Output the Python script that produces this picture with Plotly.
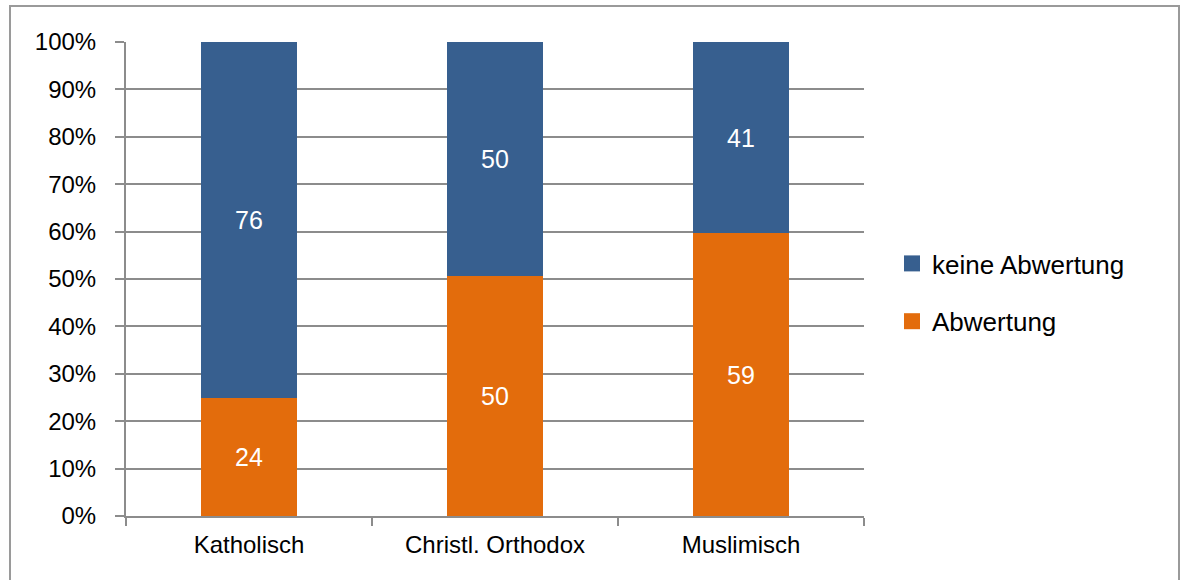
import plotly.graph_objects as go

categories = ["Katholisch", "Christl. Orthodox", "Muslimisch"]
# shares as drawn (bar heights)
abwertung = [25.0, 50.6, 59.7]
keine_abwertung = [75.0, 49.4, 40.3]
# labels printed in the bars
abwertung_labels = ["24", "50", "59"]
keine_labels = ["76", "50", "41"]
y_ticks = [0, 10, 20, 30, 40, 50, 60, 70, 80, 90, 100]
y_ticktext = [f"{v}%" for v in y_ticks]

BLUE = "#375F8F"
ORANGE = "#E36C0C"
GRID = "#8C8C8C"
FONT = "Liberation Sans, Arial, Helvetica, sans-serif"

fig = go.Figure()
fig.add_trace(go.Bar(
    x=categories, y=abwertung, name="Abwertung", marker=dict(color=ORANGE, line=dict(width=0)),
    text=abwertung_labels, texttemplate="%{text}", textposition="inside", insidetextanchor="middle",
    textfont=dict(color="white", size=25, family=FONT), showlegend=False, hoverinfo="skip",
))
fig.add_trace(go.Bar(
    x=categories, y=keine_abwertung, name="keine Abwertung", marker=dict(color=BLUE, line=dict(width=0)),
    text=keine_labels, texttemplate="%{text}", textposition="inside", insidetextanchor="middle",
    textfont=dict(color="white", size=25, family=FONT), showlegend=False, hoverinfo="skip",
))
# legend entries with larger square symbols
fig.add_trace(go.Scatter(
    x=[None], y=[None], mode="markers", name="keine Abwertung", legendgroup="a",
    marker=dict(symbol="square", size=17, color=BLUE), legendrank=1,
))
fig.add_trace(go.Scatter(
    x=[None], y=[None], mode="markers", name="Abwertung", legendgroup="b",
    marker=dict(symbol="square", size=17, color=ORANGE), legendrank=2,
))

W, H = 1182, 580
L, R, T, B = 126, 318, 42, 64
pw, ph = W - L - R, H - T - B

def px_x(x):
    return (x - L) / pw

def px_y(y):
    return (H - B - y) / ph

fig.add_shape(type="rect", xref="paper", yref="paper",
              x0=px_x(10), x1=px_x(1179), y0=px_y(590), y1=px_y(6),
              line=dict(color="#9A9A9A", width=2), fillcolor="rgba(0,0,0,0)", layer="below")

fig.update_layout(
    width=W, height=H,
    margin=dict(l=L, r=R, t=T, b=B, pad=0),
    paper_bgcolor="white", plot_bgcolor="white",
    barmode="stack", bargap=0.61,
    font=dict(family=FONT, size=24, color="black"),
    showlegend=True,
    legend=dict(x=px_x(892), y=px_y(240), xanchor="left", yanchor="top",
                font=dict(size=26, family=FONT), tracegroupgap=21,
                itemwidth=30, bgcolor="rgba(0,0,0,0)", traceorder="grouped"),
    xaxis=dict(type="category", showgrid=False, showline=True, linecolor=GRID, linewidth=2,
               ticks="outside", tickson="boundaries", ticklen=8, tickcolor=GRID, tickwidth=1.5,
               ticklabelstandoff=6,
               tickfont=dict(size=24, family=FONT), fixedrange=True),
    yaxis=dict(range=[0, 100], tickvals=y_ticks, ticktext=y_ticktext, showgrid=True,
               gridcolor=GRID, gridwidth=1.5, showline=True, linecolor=GRID, linewidth=2,
               ticks="outside", ticklen=9, tickcolor=GRID, tickwidth=1.5,
               ticklabelstandoff=14,
               tickfont=dict(size=24, family=FONT), zeroline=False, fixedrange=True),
)

fig.write_html("out.html", config={"displayModeBar": False},
               post_script="document.body.style.margin='0';")
